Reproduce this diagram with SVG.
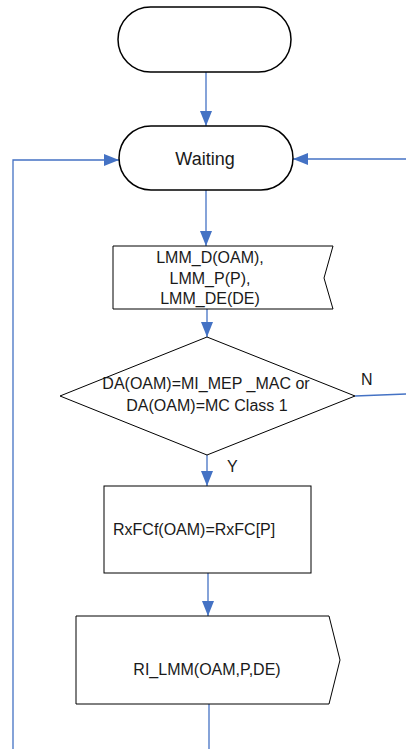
<svg xmlns="http://www.w3.org/2000/svg" width="406" height="749" viewBox="0 0 406 749">
<style>
.term{fill:#fff;stroke:#000;stroke-width:1.5}
.shape{fill:#fff;stroke:#000;stroke-width:1}
.conn{fill:none;stroke:#4472C4;stroke-width:1.3}
text{font-family:"Liberation Sans",Arial,sans-serif;font-size:16px;fill:#1a1a1a}
.c{text-anchor:middle}
</style>
<defs>
<marker id="ah" markerUnits="userSpaceOnUse" markerWidth="15" markerHeight="12" refX="15" refY="6" orient="auto">
<path d="M0,0 L15,6 L0,12 z" fill="#4472C4"/>
</marker>
</defs>
<g id="connectors">
<line class="conn" x1="206" y1="72" x2="206" y2="126" marker-end="url(#ah)"/>
<line class="conn" x1="206" y1="190" x2="206" y2="246" marker-end="url(#ah)"/>
<line class="conn" x1="207" y1="309" x2="207" y2="337" marker-end="url(#ah)"/>
<line class="conn" x1="207" y1="455" x2="207" y2="486" marker-end="url(#ah)"/>
<line class="conn" x1="208" y1="573" x2="208" y2="616" marker-end="url(#ah)"/>
<line class="conn" x1="209" y1="704" x2="209" y2="749"/>
<polyline class="conn" points="13,749 13,160 119,160" marker-end="url(#ah)"/>
<line class="conn" x1="406" y1="159" x2="293" y2="159" marker-end="url(#ah)"/>
<line class="conn" x1="355" y1="396" x2="406" y2="394"/>
</g>
<g id="start">
<rect class="term" x="118" y="7" width="173" height="65" rx="32.5"/>
</g>
<g id="waiting">
<rect class="term" x="119" y="126" width="174" height="64" rx="32"/>
<text class="c" x="205" y="165" style="font-size:18px">Waiting</text>
</g>
<g id="receive">
<polygon class="shape" points="113,246 333,246 324,278 333,309 113,309"/>
<text class="c" x="210" y="263">LMM_D(OAM),</text>
<text class="c" x="210" y="284">LMM_P(P),</text>
<text class="c" x="210" y="304">LMM_DE(DE)</text>
</g>
<g id="decision">
<polygon class="shape" points="207,337 355,396 207,455 60,396"/>
<text class="c" x="206" y="389">DA(OAM)=MI_MEP _MAC or</text>
<text class="c" x="207" y="411">DA(OAM)=MC Class 1</text>
<text x="361" y="385">N</text>
<text x="227" y="472">Y</text>
</g>
<g id="assign">
<rect class="shape" x="104" y="486" width="207" height="87"/>
<text x="113" y="535">RxFCf(OAM)=RxFC[P]</text>
</g>
<g id="send">
<polygon class="shape" points="76,616 329,616 340,660 329,704 76,704"/>
<text class="c" x="207" y="675">RI_LMM(OAM,P,DE)</text>
</g>
</svg>
